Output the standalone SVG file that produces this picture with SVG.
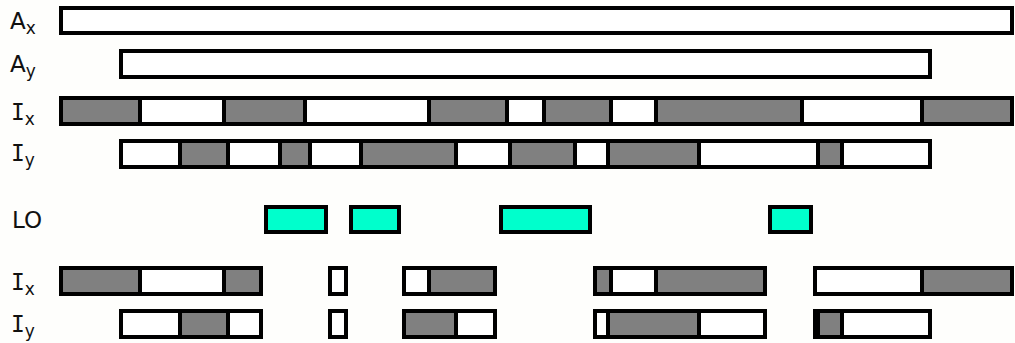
<svg xmlns="http://www.w3.org/2000/svg" width="1015" height="343" viewBox="0 0 1015 343">
<style>
  .w { fill: #ffffff; stroke: #000000; stroke-width: 4; }
  .g { fill: #808080; stroke: #000000; stroke-width: 4; }
  .t { fill: #00ffcc; stroke: #000000; stroke-width: 4; }
  .lbl { font-family: "DejaVu Sans", Verdana, sans-serif; font-size: 23px; fill: #111111; }
  .sub { font-size: 17px; }
  .serifI { font-family: "DejaVu Sans Mono", monospace; }
</style>
<rect x="0" y="0" width="1015" height="343" fill="#fefefc"/>
<g id="labels">
  <text class="lbl" x="10" y="29">A<tspan class="sub" dy="5">x</tspan></text>
  <text class="lbl" x="10" y="72">A<tspan class="sub" dy="5">y</tspan></text>
  <text class="lbl" x="11" y="120"><tspan class="serifI">I</tspan><tspan class="sub" dy="5">x</tspan></text>
  <text class="lbl" x="11" y="161"><tspan class="serifI">I</tspan><tspan class="sub" dy="5">y</tspan></text>
  <text class="lbl" x="12" y="228">LO</text>
  <text class="lbl" x="11" y="290"><tspan class="serifI">I</tspan><tspan class="sub" dy="5">x</tspan></text>
  <text class="lbl" x="11" y="332"><tspan class="serifI">I</tspan><tspan class="sub" dy="5">y</tspan></text>
</g>
<g id="row-Ax">
  <rect class="w" x="61" y="8" width="951" height="25"/>
</g>
<g id="row-Ay">
  <rect class="w" x="121" y="51" width="809" height="26"/>
</g>
<g id="row-Ix">
  <rect class="g" x="61" y="98" width="79" height="26"/>
  <rect class="w" x="140" y="98" width="84" height="26"/>
  <rect class="g" x="224" y="98" width="81" height="26"/>
  <rect class="w" x="305" y="98" width="124" height="26"/>
  <rect class="g" x="429" y="98" width="78" height="26"/>
  <rect class="w" x="507" y="98" width="37" height="26"/>
  <rect class="g" x="544" y="98" width="67" height="26"/>
  <rect class="w" x="611" y="98" width="45" height="26"/>
  <rect class="g" x="656" y="98" width="146" height="26"/>
  <rect class="w" x="802" y="98" width="120" height="26"/>
  <rect class="g" x="922" y="98" width="90" height="26"/>
</g>
<g id="row-Iy">
  <rect class="w" x="121" y="141" width="59" height="26"/>
  <rect class="g" x="180" y="141" width="48" height="26"/>
  <rect class="w" x="228" y="141" width="52" height="26"/>
  <rect class="g" x="280" y="141" width="30" height="26"/>
  <rect class="w" x="310" y="141" width="51" height="26"/>
  <rect class="g" x="361" y="141" width="95" height="26"/>
  <rect class="w" x="456" y="141" width="54" height="26"/>
  <rect class="g" x="510" y="141" width="65" height="26"/>
  <rect class="w" x="575" y="141" width="33" height="26"/>
  <rect class="g" x="608" y="141" width="91" height="26"/>
  <rect class="w" x="699" y="141" width="119" height="26"/>
  <rect class="g" x="818" y="141" width="24" height="26"/>
  <rect class="w" x="842" y="141" width="88" height="26"/>
</g>
<g id="row-LO">
  <rect class="t" x="266" y="207" width="60" height="25"/>
  <rect class="t" x="351" y="207" width="48" height="25"/>
  <rect class="t" x="501" y="207" width="89" height="25"/>
  <rect class="t" x="770" y="207" width="41" height="25"/>
</g>
<g id="row-Ix-result">
  <rect class="g" x="61" y="268" width="79" height="26"/>
  <rect class="w" x="140" y="268" width="84" height="26"/>
  <rect class="g" x="224" y="268" width="37" height="26"/>
  <rect class="w" x="330" y="268" width="16" height="26"/>
  <rect class="w" x="404" y="268" width="25" height="26"/>
  <rect class="g" x="429" y="268" width="66" height="26"/>
  <rect class="g" x="595" y="268" width="16" height="26"/>
  <rect class="w" x="611" y="268" width="45" height="26"/>
  <rect class="g" x="656" y="268" width="109" height="26"/>
  <rect class="w" x="815" y="268" width="107" height="26"/>
  <rect class="g" x="922" y="268" width="90" height="26"/>
</g>
<g id="row-Iy-result">
  <rect class="w" x="121" y="311" width="59" height="26"/>
  <rect class="g" x="180" y="311" width="48" height="26"/>
  <rect class="w" x="228" y="311" width="33" height="26"/>
  <rect class="w" x="330" y="311" width="16" height="26"/>
  <rect class="g" x="404" y="311" width="52" height="26"/>
  <rect class="w" x="456" y="311" width="39" height="26"/>
  <rect class="w" x="595" y="311" width="13" height="26"/>
  <rect class="g" x="608" y="311" width="91" height="26"/>
  <rect class="w" x="699" y="311" width="66" height="26"/>
  <rect class="w" x="815" y="311" width="3" height="26"/>
  <rect class="g" x="818" y="311" width="24" height="26"/>
  <rect class="w" x="842" y="311" width="88" height="26"/>
</g>
</svg>
